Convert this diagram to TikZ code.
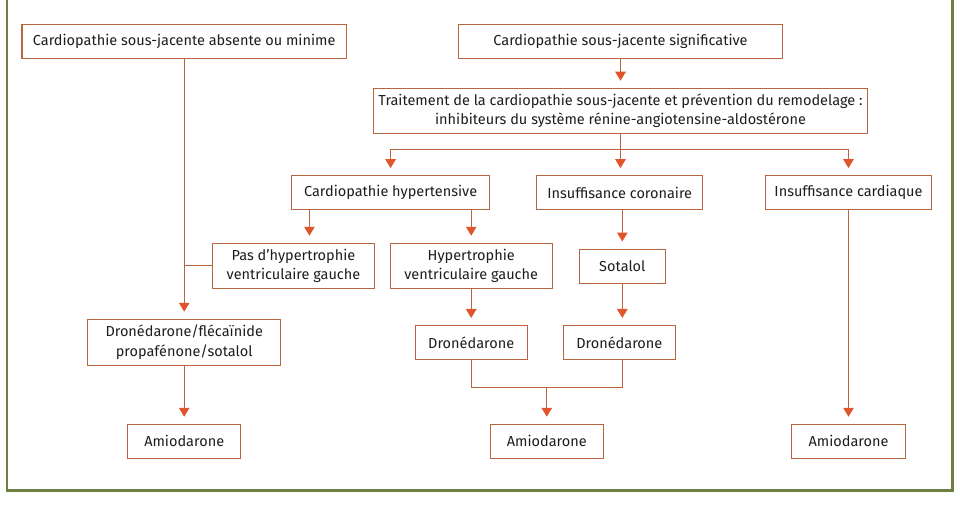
\documentclass[tikz,border=0pt]{standalone}
\usepackage{fontspec}
\setmainfont{Fira Sans}
\usetikzlibrary{arrows.meta}
\definecolor{framegreen}{HTML}{6E7F45}
\definecolor{boxline}{HTML}{B9653F}
\definecolor{arrowfill}{HTML}{E0552B}
\definecolor{txt}{HTML}{1E1E1E}
\begin{document}
\begin{tikzpicture}[x=1pt,y=-1pt,
  box/.style={draw=boxline, line width=1.1pt, rectangle, inner sep=0pt, align=center,
    text=txt, font=\fontsize{14.5}{19.5}\selectfont},
  conn/.style={draw=boxline, line width=1.1pt},
  arr/.style={conn, -{Triangle[length=9pt,width=10.5pt,fill=arrowfill,color=arrowfill]}, shorten >=7pt}
]
\useasboundingbox (0,0) rectangle (960,516);
\fill[white] (0,0) rectangle (960,516);
\draw[framegreen, line width=2.2pt] (7,-10) rectangle (952.5,490.5);

\node[box, minimum width=324.5pt, minimum height=34pt] (b1) at (184.2,41.5) {Cardiopathie sous-jacente absente ou minime};
\node[box, minimum width=324.4pt, minimum height=34pt] (b2) at (620.5,41.5) {Cardiopathie sous-jacente significative};
\node[box, minimum width=494.4pt, minimum height=45pt] (b3) at (620.5,110.8) {Traitement de la cardiopathie sous-jacente et prévention du remodelage :\\inhibiteurs du système rénine-angiotensine-aldostérone};
\node[box, minimum width=197.8pt, minimum height=33.6pt] (hyp) at (390.6,192.5) {Cardiopathie hypertensive};
\node[box, minimum width=166pt, minimum height=33.6pt] (cor) at (619.7,192.5) {Insuffisance coronaire};
\node[box, minimum width=166.4pt, minimum height=33.6pt] (card) at (848.5,192.5) {Insuffisance cardiaque};
\node[box, minimum width=162.4pt, minimum height=45pt] (pas) at (293.5,265.8) {Pas d’hypertrophie\\ventriculaire gauche};
\node[box, minimum width=162.3pt, minimum height=45pt] (hvg) at (471.2,265.8) {Hypertrophie\\ventriculaire gauche};
\node[box, minimum width=86pt, minimum height=34.3pt] (sot) at (622.3,266.2) {Sotalol};
\node[box, minimum width=193.4pt, minimum height=46pt] (dfl) at (184.2,342.3) {Dronédarone/flécaïnide\\propafénone/sotalol};
\node[box, minimum width=112.3pt, minimum height=33.8pt] (dr1) at (471.2,342.4) {Dronédarone};
\node[box, minimum width=112pt, minimum height=33.8pt] (dr2) at (619.3,342.4) {Dronédarone};
\node[box, minimum width=113pt, minimum height=34pt] (am1) at (184.2,441.3) {Amiodarone};
\node[box, minimum width=113pt, minimum height=34pt] (am2) at (546.8,441.3) {Amiodarone};
\node[box, minimum width=113.4pt, minimum height=34pt] (am3) at (848.5,441.3) {Amiodarone};

\coordinate (split) at (620.5,149.3);
\coordinate (join) at (546.8,387.3);

% left branch
\draw[arr] (b1.south) -- (dfl.north);
\draw[conn] (pas.west) -- (pas.west -| b1.south);
\draw[arr] (dfl.south) -- (am1.north);

% right branch
\draw[arr] (b2.south) -- (b3.north);
\draw[conn] (b3.south) -- (split);
\draw[conn] (split -| hyp.north) -- (split -| card.north);
\draw[arr] (split -| hyp.north) -- (hyp.north);
\draw[arr] (split) -- (split |- cor.north);
\draw[arr] (split -| card.north) -- (card.north);

\draw[arr] ([xshift=18.3pt]hyp.south west) -- ([xshift=18.3pt]hyp.south west |- pas.north);
\draw[arr] (hyp.south -| hvg.north) -- (hvg.north);
\draw[arr] (cor.south -| sot.north) -- (sot.north);
\draw[arr] (hvg.south) -- (dr1.north);
\draw[arr] (sot.south) -- (sot.south |- dr2.north);

\draw[conn] (dr1.south) -- (dr1.south |- join) -- (join -| sot.south) -- (sot.south |- dr2.south);
\draw[arr] (join) -- (am2.north);

\draw[arr] (card.south) -- (am3.north);
\end{tikzpicture}
\end{document}
